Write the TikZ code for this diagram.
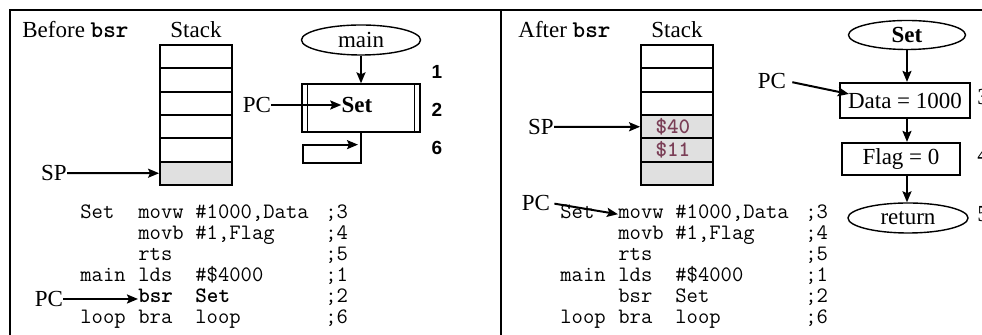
\documentclass[tikz,border=0pt]{standalone}
\usepackage{fontspec}
\setmainfont{Liberation Serif}
\setsansfont{Liberation Sans}
\definecolor{stackgray}{RGB}{224,224,224}
\definecolor{regred}{RGB}{122,62,86}
\usetikzlibrary{arrows.meta, positioning, shapes.geometric}

\begin{document}
\begin{tikzpicture}[
    x=0.5pt, y=-0.5pt,
    txt/.style={font=\fontsize{11.5}{13}\selectfont, inner sep=0pt},
    code/.style={font=\fontsize{11}{13}\selectfont\ttfamily, inner sep=0pt, anchor=base west},
    regval/.style={font=\fontsize{11}{13}\selectfont\ttfamily\bfseries, text=regred, inner sep=0pt, anchor=west},
    cell/.style={draw, line width=0.9pt, minimum width=36pt, minimum height=11.67pt, inner sep=0pt},
    arrow/.style={-{Stealth[length=5.5pt, width=4.5pt, inset=1pt]}, line width=1pt},
    term/.style={ellipse, draw, line width=0.7pt, inner sep=0pt, font=\fontsize{11.5}{13}\selectfont},
    proc/.style={rectangle, draw, line width=1.1pt, inner sep=0pt, font=\fontsize{11.5}{13}\selectfont},
    stepnum/.style={font=\fontsize{9.5}{11}\selectfont\sffamily\bfseries, inner sep=0pt}
]
\useasboundingbox (0,0) rectangle (982,335);
\clip (0,0) rectangle (982,335);

% frame and divider
\draw[line width=1pt] (10,10) rectangle (1010,360);
\draw[line width=1pt] (501,10) -- (501,360);

% --- before bsr ---
\node[txt, anchor=base west] (lhead)  at (22,38)  {Before \textbf{\ttfamily\fontsize{12}{13}\selectfont bsr}};
\node[txt, anchor=base]      (lstack) at (196,38) {Stack};

\foreach \i/\shade in {0/white, 1/white, 2/white, 3/white, 4/white, 5/stackgray}
    \node[cell, fill=\shade] (lcell\i) at (196, {56.67+23.33*\i}) {};

\node[txt] (lsp) at (54,173) {SP};
\draw[arrow] (lsp) -- (lcell5);

\node[term, minimum width=59.5pt, minimum height=15pt] (lmain) at (361,40) {main};
\node[proc, line width=0.65pt, minimum width=59pt, minimum height=24pt] (lset) at (361,108) {};
\draw[line width=0.65pt] ([xshift=3pt]lset.north west) -- ([xshift=3pt]lset.south west)
    ([xshift=-3pt]lset.north east) -- ([xshift=-3pt]lset.south east);
\node[txt] (lsettxt) at (357,105) {\bfseries Set};
\node[txt] (lpc) at (257,105) {PC};

\draw[arrow] (lmain) -- (lset);
\draw[arrow] (lpc) -- (lsettxt);
\draw[arrow] (lset.south) -- ++(0,30) -| ++(-58,-18) -- ++(55,0);

\node[stepnum] at (437,72)  {1};
\node[stepnum] at (437,110) {2};
\node[stepnum] at (437,148) {6};

\foreach \lbl/\opc/\opd/\cmt [count=\n] in {Set/movw/{\#1000,Data}/;3, {}/movb/{\#1,Flag}/;4,
        {}/rts/{}/;5, main/lds/\#\$4000/;1, {}/\textbf{bsr}/\textbf{Set}/;2, loop/bra/loop/;6} {
    \node[code] (llbl\n) at (80,  {219+21*(\n-1)}) {\lbl};
    \node[code] (lop\n)  at (138, {219+21*(\n-1)}) {\opc};
    \node[code] (lopd\n) at (195, {219+21*(\n-1)}) {\opd};
    \node[code] (lcmt\n) at (325, {219+21*(\n-1)}) {\cmt};
}

\node[txt] (lpc2) at (49,299) {PC};
\draw[arrow] (lpc2) -- (lpc2 -| lop5.west);

% --- after bsr ---
\node[txt, anchor=base west] (rhead)  at (518,38) {After \textbf{\ttfamily\fontsize{12}{13}\selectfont bsr}};
\node[txt, anchor=base]      (rstack) at (677,38) {Stack};

\foreach \i/\shade/\val in {0/white/{}, 1/white/{}, 2/white/{}, 3/stackgray/\$40,
        4/stackgray/\$11, 5/stackgray/{}} {
    \node[cell, fill=\shade] (rcell\i) at (677, {56.67+23.33*\i}) {};
    \node[regval] at ([xshift=7.5pt]rcell\i.west) {\val};
}

\node[txt] (rsp) at (541,127) {SP};
\draw[arrow] (rsp) -- (rcell3);

\node[term, minimum width=58.5pt, minimum height=14.5pt] (rset) at (907,35) {\bfseries Set};
\node[proc, minimum width=65pt, minimum height=17.5pt] (rdata) at (905,100.5) {Data = 1000};
\node[proc, minimum width=59pt, minimum height=16pt] (rflag) at (901,159) {Flag = 0};
\node[term, minimum width=60pt, minimum height=15pt] (rret) at (908,218) {return};

\draw[arrow] (rset.south) -- (rset.south |- rdata.north);
\draw[arrow] (rset |- rdata.south) -- (rset |- rflag.north);
\draw[arrow] (rset |- rflag.south) -- (rset |- rret.north);

\node[txt] (rpc) at (772,81) {PC};
\draw[arrow, shorten <=3pt] (rpc.east) -- ([xshift=5pt,yshift=3.25pt]rdata.west);

\node[txt] at (983,97)  {3};
\node[txt] at (983,155) {4};
\node[txt] at (983,214) {5};

\foreach \lbl/\opc/\opd/\cmt [count=\n] in {Set/movw/{\#1000,Data}/;3, {}/movb/{\#1,Flag}/;4,
        {}/rts/{}/;5, main/lds/\#\$4000/;1, {}/bsr/Set/;2, loop/bra/loop/;6} {
    \node[code] (rlbl\n) at (560, {219+21*(\n-1)}) {\lbl};
    \node[code] (rop\n)  at (618, {219+21*(\n-1)}) {\opc};
    \node[code] (ropd\n) at (675, {219+21*(\n-1)}) {\opd};
    \node[code] (rcmt\n) at (805, {219+21*(\n-1)}) {\cmt};
}

\node[txt] (rpc2) at (536,203) {PC};
\draw[arrow, shorten <=2pt] (rpc2.east) -- (rop1.west);

\end{tikzpicture}
\end{document}
